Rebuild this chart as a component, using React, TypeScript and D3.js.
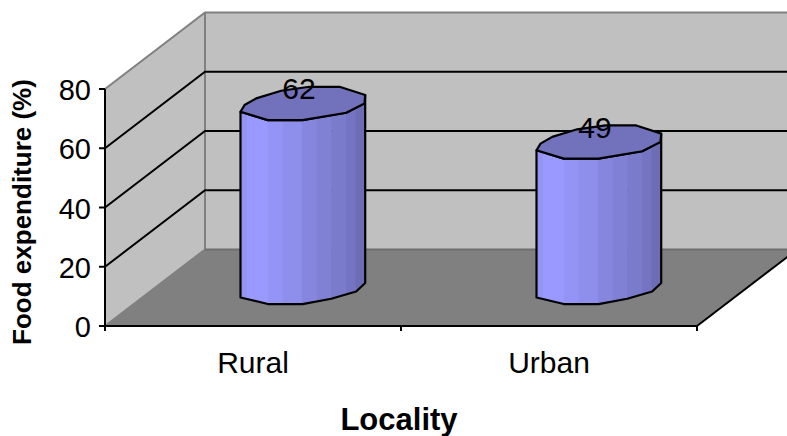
import React from "react";
import * as d3 from "d3";

const categories = ["Rural", "Urban"];
const values = [62, 49];
const yTicks = [0, 20, 40, 60, 80];
const yTitle = "Food expenditure (%)";
const xTitle = "Locality";

const W = 787, H = 436;
const x0 = 105, x1 = 697, yBase = 326, yTop = 89, depthX = 100, depthY = 76.5;
const font = "'Liberation Sans', Arial, sans-serif";

const y = d3.scaleLinear().domain([0, 80]).range([yBase, yTop]);
const band = d3.scaleBand<string>().domain(categories).range([x0, x1]);

// Faceted cylinder outline, as offsets from the axis centre of each end cap
const capBack: [number, number][] = [[-62.5, 7.7], [-58.5, 1], [-46.8, -5.7], [-21.8, -13.3], [6.5, -17.3], [36.5, -17.3], [62.2, -9]];
const capFront: [number, number][] = [[62.2, -9], [61.5, -0.7], [43.2, 8.7], [-0.5, 16], [-35.2, 16], [-62.5, 7.7]];
const bottomFront: [number, number][] = [[62.2, -4.7], [53.2, 3.7], [28.2, 11], [-0.5, 16.3], [-35.2, 16.3], [-62.5, 9.7]];
const stripEdges = [-62.5, -56, -35.2, -20.5, -1, 13.5, 28.2, 43, 52.5, 62.5];
const stripFills = ["#9494f4", "#9999ff", "#9494f6", "#8e8eec", "#8686de", "#8080d4", "#7b7bcc", "#7474c2", "#6d6db6"];

const line = d3.line();
const poly = d3.line().curve(d3.curveLinearClosed);

function Cylinder({ cat, value, i }: { cat: string; value: number; i: number }) {
  const cx = band(cat)! + band.bandwidth() / 2 + depthX / 2;
  const yb = y(0) - depthY / 2;
  const yt = y(value) - depthY / 2;
  const at = (pts: [number, number][], cy: number) => pts.map(([a, b]) => [cx + a, cy + b] as [number, number]);
  const body = [...at(capFront, yt), ...at(bottomFront, yb).reverse()];
  const cap = [...at(capBack, yt), ...at(capFront, yt).slice(1, -1)];
  const clipId = `body-${i}`;
  return (
    <g>
      <clipPath id={clipId}><path d={poly(body)!} /></clipPath>
      <g clipPath={`url(#${clipId})`}>
        {stripFills.map((f, k) => (
          <rect key={k} x={cx + stripEdges[k]} y={yt - 20} width={stripEdges[k + 1] - stripEdges[k] + 0.5} height={yb - yt + 50} fill={f} />
        ))}
      </g>
      <path d={poly(body)!} fill="none" stroke="#000" strokeWidth={2.2} strokeLinejoin="round" />
      <path d={poly(cap)!} fill="#7272bc" stroke="#000" strokeWidth={2.2} strokeLinejoin="round" />
      <text x={cx - 4} y={yt - 5} fontFamily={font} fontSize={30} fill="#000" textAnchor="middle">{value}</text>
    </g>
  );
}

export default function App() {
  const bx0 = x0 + depthX, bx1 = x1 + depthX;
  const yb = y(0), yt = y(80);
  return (
    <svg width={W} height={H} viewBox={`0 0 ${W} ${H}`} style={{ position: "absolute", left: 0, top: 0, display: "block", background: "#fff" }}>
      <path d={poly([[x0, yb], [bx0, yb - depthY], [bx0, yt - depthY], [x0, yt]])!} fill="#c0c0c0" />
      <rect x={bx0} y={yt - depthY} width={bx1 - bx0} height={yb - yt} fill="#c0c0c0" />
      <path d={poly([[x0, yb], [bx0, yb - depthY], [bx1, yb - depthY], [x1, yb]])!} fill="#808080" />
      <path d={line([[x0, yt], [bx0, yt - depthY], [bx1, yt - depthY]])!} fill="none" stroke="#808080" strokeWidth={2} />
      <path d={line([[x0, yb], [bx0, yb - depthY], [bx0, yt - depthY]])!} fill="none" stroke="#808080" strokeWidth={2} />
      <path d={line([[bx0, yb - depthY], [bx1, yb - depthY]])!} fill="none" stroke="#6e6e6e" strokeWidth={2} />
      {yTicks.filter((t) => t > 0 && t < 80).map((t) => (
        <path key={t} d={line([[x0, y(t)], [bx0, y(t) - depthY], [bx1, y(t) - depthY]])!} fill="none" stroke="#000" strokeWidth={2} />
      ))}
      <path d={line([[x1, yb], [bx1, yb - depthY]])!} fill="none" stroke="#000" strokeWidth={2} />
      {categories.map((c, i) => <Cylinder key={c} cat={c} value={values[i]} i={i} />)}
      <path d={line([[x0, yt], [x0, yb + 5]])!} fill="none" stroke="#000" strokeWidth={2} />
      <path d={line([[x0, yb], [x1, yb]])!} fill="none" stroke="#000" strokeWidth={2} />
      {yTicks.map((t) => (
        <g key={t}>
          <path d={line([[x0 - 6, y(t)], [x0, y(t)]])!} stroke="#000" strokeWidth={2} />
          <text x={x0 - 14} y={y(t) + 11} textAnchor="end" fontFamily={font} fontSize={29} fill="#000">{t}</text>
        </g>
      ))}
      {[x0, x0 + band.bandwidth(), x1].map((v) => (
        <path key={v} d={line([[v, yb], [v, yb + 5]])!} stroke="#000" strokeWidth={2} />
      ))}
      {categories.map((c) => (
        <text key={c} x={band(c)! + band.bandwidth() / 2} y={373} textAnchor="middle" fontFamily={font} fontSize={30} fill="#000">{c}</text>
      ))}
      <text x={399} y={430} textAnchor="middle" fontFamily={font} fontSize={31} fontWeight="bold" fill="#000">{xTitle}</text>
      <text transform="translate(31,212) rotate(-90)" textAnchor="middle" fontFamily={font} fontSize={26} fontWeight="bold" fill="#000">{yTitle}</text>
    </svg>
  );
}
